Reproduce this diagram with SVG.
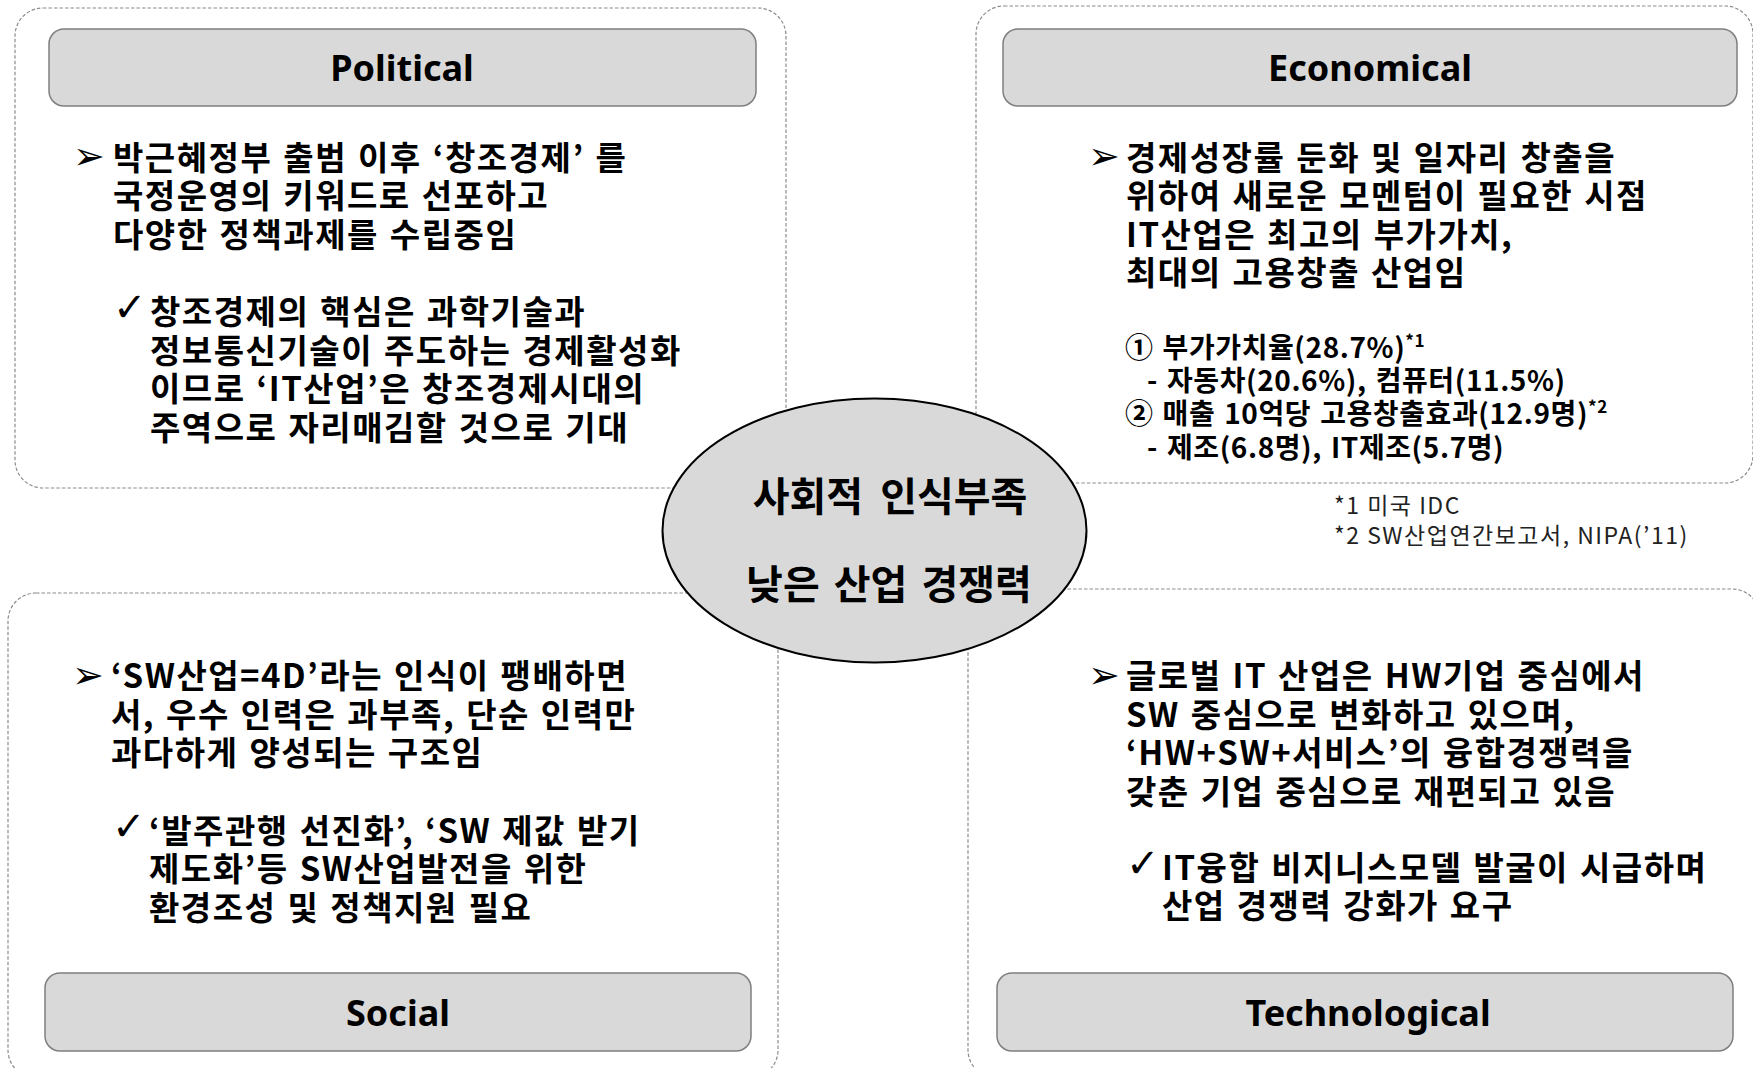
<svg xmlns="http://www.w3.org/2000/svg" width="1753" height="1068" viewBox="0 0 1753 1068">
<style>
.outer{fill:#ffffff;stroke:#8c8c8c;stroke-width:1.2;stroke-dasharray:3.5 2}
.hdr{fill:#d9d9d9;stroke:#7f7f7f;stroke-width:1.5}
.hdrtxt{font-family:"Noto Sans","Noto Sans CJK KR",sans-serif;font-weight:700;font-size:36px;fill:#000;text-anchor:middle}
.body{font-family:"Noto Sans CJK KR","Noto Sans",sans-serif;font-weight:700;font-size:33px;letter-spacing:1.5px;word-spacing:2px;fill:#000}
.num{font-family:"Noto Sans CJK KR","Noto Sans",sans-serif;font-weight:700;font-size:28px;letter-spacing:0.6px;word-spacing:2px;fill:#000}
.sup{font-size:17px}
.note{font-family:"Noto Sans CJK KR","Noto Sans",sans-serif;font-weight:400;font-size:23px;letter-spacing:1.5px;fill:#222}
.arrow{font-family:"DejaVu Sans",sans-serif;font-size:38px;fill:#000}
.check{font-family:"DejaVu Sans",sans-serif;font-size:40px;fill:#000}
.center{fill:#d9d9d9;stroke:#000;stroke-width:2}
.ctxt{font-family:"Noto Sans CJK KR","Noto Sans",sans-serif;font-weight:700;font-size:40px;word-spacing:8px;fill:#000;text-anchor:middle}
</style>

<g id="political">
  <rect class="outer" x="15" y="8" width="771" height="480" rx="28"/>
  <rect class="hdr" x="49" y="29" width="707" height="77" rx="15"/>
  <text class="hdrtxt" x="402" y="81">Political</text>
  <text class="arrow" x="73" y="169">➢</text>
  <text class="body">
    <tspan x="113" y="169.5">박근혜정부 출범 이후 ‘창조경제’ 를</tspan>
    <tspan x="113" y="208">국정운영의 키워드로 선포하고</tspan>
    <tspan x="113" y="246.5">다양한 정책과제를 수립중임</tspan>
  </text>
  <text class="check" x="113" y="321">✓</text>
  <text class="body">
    <tspan x="150" y="324">창조경제의 핵심은 과학기술과</tspan>
    <tspan x="150" y="362.5">정보통신기술이 주도하는 경제활성화</tspan>
    <tspan x="150" y="401">이므로 ‘IT산업’은 창조경제시대의</tspan>
    <tspan x="150" y="439.5">주역으로 자리매김할 것으로 기대</tspan>
  </text>
</g>

<g id="economical">
  <rect class="outer" x="976" y="6" width="777" height="477" rx="28"/>
  <rect class="hdr" x="1003" y="29" width="734" height="77" rx="15"/>
  <text class="hdrtxt" x="1370" y="81">Economical</text>
  <text class="arrow" x="1088" y="169">➢</text>
  <text class="body">
    <tspan x="1126" y="169.5">경제성장률 둔화 및 일자리 창출을</tspan>
    <tspan x="1126" y="208">위하여 새로운 모멘텀이 필요한 시점</tspan>
    <tspan x="1126" y="246.5">IT산업은 최고의 부가가치,</tspan>
    <tspan x="1126" y="285">최대의 고용창출 산업임</tspan>
  </text>
  <text class="num">
    <tspan x="1125" y="358">① 부가가치율(28.7%)</tspan><tspan class="sup" dy="-11">*1</tspan>
    <tspan x="1147" y="391">- 자동차(20.6%), 컴퓨터(11.5%)</tspan>
    <tspan x="1125" y="424">② 매출 10억당 고용창출효과(12.9명)</tspan><tspan class="sup" dy="-11">*2</tspan>
    <tspan x="1147" y="457.5">- 제조(6.8명), IT제조(5.7명)</tspan>
  </text>
</g>

<g id="footnotes">
  <text class="note">
    <tspan x="1334" y="514">*1 미국 IDC</tspan>
    <tspan x="1334" y="544">*2 SW산업연간보고서, NIPA(’11)</tspan>
  </text>
</g>

<g id="social">
  <rect class="outer" x="8" y="593" width="770" height="485" rx="28"/>
  <rect class="hdr" x="45" y="973" width="706" height="78" rx="15"/>
  <text class="hdrtxt" x="398" y="1026">Social</text>
  <text class="arrow" x="72" y="688">➢</text>
  <text class="body">
    <tspan x="111" y="688">‘SW산업=4D’라는 인식이 팽배하면</tspan>
    <tspan x="111" y="726.5">서, 우수 인력은 과부족, 단순 인력만</tspan>
    <tspan x="111" y="765">과다하게 양성되는 구조임</tspan>
  </text>
  <text class="check" x="112" y="840">✓</text>
  <text class="body">
    <tspan x="149" y="842.5">‘발주관행 선진화’, ‘SW 제값 받기</tspan>
    <tspan x="149" y="881">제도화’등 SW산업발전을 위한</tspan>
    <tspan x="149" y="919.5">환경조성 및 정책지원 필요</tspan>
  </text>
</g>

<g id="technological">
  <rect class="outer" x="968" y="589" width="792" height="489" rx="28"/>
  <rect class="hdr" x="997" y="973" width="736" height="78" rx="15"/>
  <text class="hdrtxt" x="1368" y="1026">Technological</text>
  <text class="arrow" x="1088" y="688">➢</text>
  <text class="body">
    <tspan x="1126" y="688">글로벌 IT 산업은 HW기업 중심에서</tspan>
    <tspan x="1126" y="726.5">SW 중심으로 변화하고 있으며,</tspan>
    <tspan x="1126" y="765">‘HW+SW+서비스’의 융합경쟁력을</tspan>
    <tspan x="1126" y="803.5">갖춘 기업 중심으로 재편되고 있음</tspan>
  </text>
  <text class="check" x="1126" y="877">✓</text>
  <text class="body">
    <tspan x="1162" y="879.5">IT융합 비지니스모델 발굴이 시급하며</tspan>
    <tspan x="1162" y="918">산업 경쟁력 강화가 요구</tspan>
  </text>
</g>

<g id="connectors"></g>

<g id="center-node">
  <ellipse class="center" cx="874.5" cy="530.5" rx="212" ry="132"/>
  <text class="ctxt" x="890" y="511">사회적 인식부족</text>
  <text class="ctxt" x="889" y="599" style="word-spacing:5px">낮은 산업 경쟁력</text>
</g>
</svg>
